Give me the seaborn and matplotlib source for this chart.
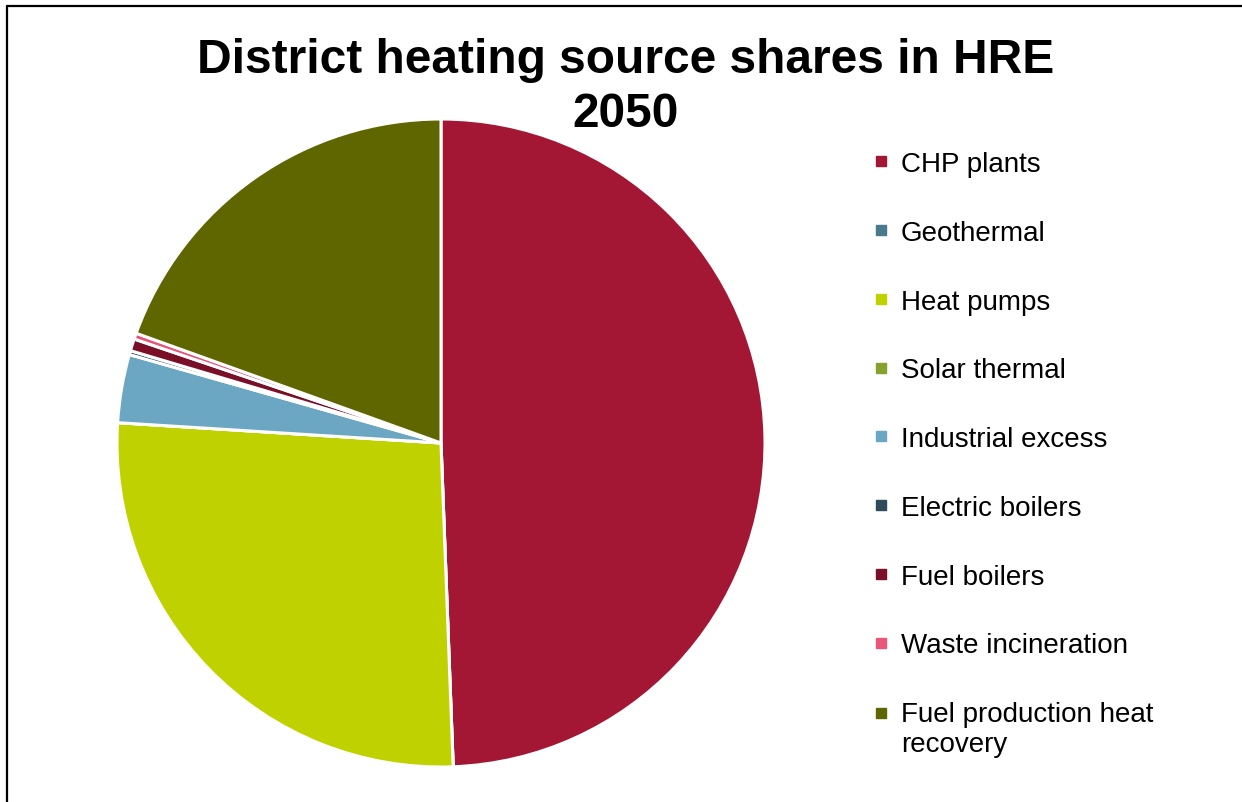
import matplotlib
matplotlib.use("Agg")
import matplotlib.pyplot as plt
from matplotlib.lines import Line2D
import seaborn as sns

sns.set_theme(style="white")
plt.rcParams['font.family'] = ['Liberation Sans', 'DejaVu Sans']
plt.rcParams['text.color'] = 'black'

sources = ["CHP plants", "Geothermal", "Heat pumps", "Solar thermal",
           "Industrial excess", "Electric boilers", "Fuel boilers",
           "Waste incineration", "Fuel production heat\nrecovery"]
shares = [49.4, 0.0, 26.6, 0.0, 3.4, 0.2, 0.6, 0.3, 19.5]
colors = ["#A31735", "#4A7A8C", "#BFD200", "#86A22D", "#6BA6C2",
          "#2F4B5A", "#7A1028", "#E8577A", "#5F6600"]

fig = plt.figure(figsize=(12.42, 8.03), dpi=100)
W, H = 1242, 803
cx, cy, r = 441, 444, 324
ax = fig.add_axes([(cx - r) / W, (H - cy - r) / H, 2 * r / W, 2 * r / H])
ax.pie(shares, colors=colors, startangle=90, counterclock=False, radius=1,
       wedgeprops=dict(edgecolor="white", linewidth=2.2))
ax.set_xlim(-1, 1)
ax.set_ylim(-1, 1)
ax.set_aspect("equal")
ax.axis("off")

fig.text(626 / W, 1 - 38 / H, "District heating source shares in HRE\n2050",
         ha="center", va="top", fontsize=34.5, fontweight="bold", linespacing=1.25,
         color="black")

handles = [Line2D([0], [0], marker="s", linestyle="none", markersize=6.5,
                  markerfacecolor=c, markeredgecolor=c) for c in colors]
leg = fig.legend(handles, sources, loc="upper left", bbox_to_anchor=(873 / W, 1 - 152 / H),
                 frameon=False, fontsize=20, labelspacing=1.54, handlelength=0.6,
                 handletextpad=0.4, borderpad=0, borderaxespad=0)
for t in leg.get_texts():
    t.set_color("black")
# put the marker of the two-line entry next to its first line
last = leg.legend_handles[-1]
last.set_ydata([y + 12 for y in last.get_ydata()])

# frame lines on the left and top only
fig.add_artist(Line2D([6.5 / W, 6.5 / W], [0, 1 - 6.5 / H], transform=fig.transFigure,
                      color="black", linewidth=1.6))
fig.add_artist(Line2D([6.5 / W, 1], [1 - 6.5 / H, 1 - 6.5 / H], transform=fig.transFigure,
                      color="black", linewidth=1.6))

fig.savefig("out.png", dpi=100)
plt.close(fig)
